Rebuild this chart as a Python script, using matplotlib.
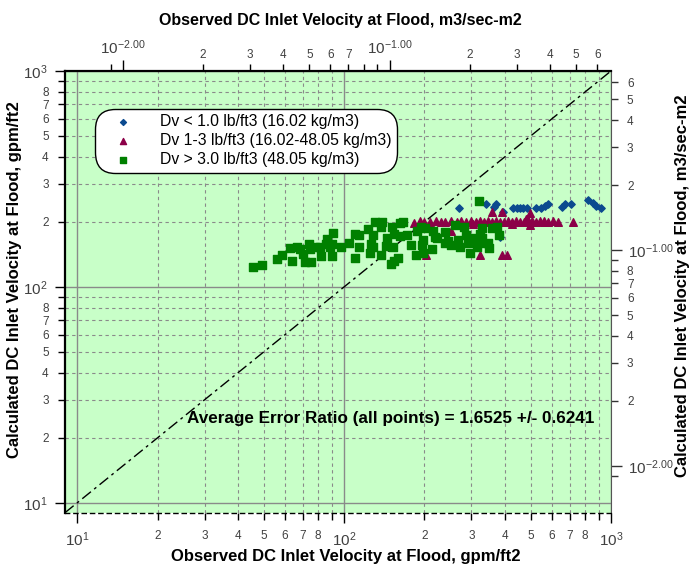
import numpy as np
import matplotlib
matplotlib.use("Agg")
import matplotlib.pyplot as plt

plt.rcParams['font.family'] = ['Liberation Sans', 'DejaVu Sans']
plt.rcParams['mathtext.fontset'] = 'custom'
plt.rcParams['mathtext.rm'] = 'Liberation Sans'
plt.rcParams['mathtext.it'] = 'Liberation Sans'

# observed / calculated DC inlet velocity at flood, gpm/ft2
obs_lo = [270, 340, 364, 372, 394, 430, 444, 456, 469, 484, 522, 546, 565, 580,
          655, 672, 706, 821, 855, 875, 915, 383]
calc_lo = [233, 241, 235, 242, 223, 233, 233, 233, 233, 233, 233, 233, 236, 241,
           235, 241, 243, 252, 244, 238, 231, 170]

obs_mid = [183, 192, 200, 209, 221, 230, 238, 251, 264, 275, 287, 300, 313, 322,
           334, 346, 358, 370, 383, 397, 411, 425, 440, 456, 472, 488, 505, 523,
           541, 560, 580, 606, 632,
           251, 357, 389, 497, 562, 480, 722, 497, 202, 322, 390, 407, 305, 425]
calc_mid = [197, 201, 199, 200, 202, 200, 199, 201, 200, 203, 199, 201, 200, 202,
            199, 201, 200, 203, 200, 199, 201, 200, 202, 200, 199, 205, 201, 200,
            202, 200, 199, 201, 200,
            181, 223, 223, 221, 202, 206, 199, 193, 140, 140, 140, 140, 196, 196]

obs_hi = [45.5, 49.2, 56.0, 58.5, 63.6, 62.7, 66.6, 68.2, 70.1, 73.7, 74.3, 77.6,
          81.0, 71.6, 75.4, 82.2, 86.6, 90.5, 85.8, 88.8, 90.2, 90.0, 97.1, 104.3,
          109.6, 113.4, 113.4, 110.3, 122.9, 130.2, 138.7, 138.0, 128.3, 125.8,
          128.8, 124.7, 137.2, 144.1, 145.3, 151.2, 153.8, 161.6, 166.3, 161.6,
          152.5, 159.2, 153.8, 149.5, 172.7, 177.7, 186.7, 188.3, 194.9, 200.5,
          197.6, 195.9, 197.6, 213.6, 215.4, 218.6, 223.8, 238.3, 238.3, 245.2,
          252.5, 259.8, 267.4, 271.3, 281.6, 287.4, 291.4, 295.7, 304.3, 313.3,
          320.0, 327.3, 322.5, 328.9, 327.3, 346.4, 348.5, 356.7, 372.4, 379.9, 316.0]
calc_hi = [123.5, 125.8, 134.5, 139.9, 131.7, 150.8, 152.4, 149.2, 141.4, 158.4,
           149.2, 152.4, 152.4, 130.8, 129.9, 138.5, 166.0, 178.1, 157.9, 152.4,
           157.4, 138.5, 152.4, 159.1, 175.1, 173.8, 153.4, 136.4, 185.3, 199.0,
           199.0, 189.9, 173.8, 157.4, 153.4, 142.9, 140.4, 154.2, 167.8, 189.9,
           175.1, 196.9, 199.0, 172.5, 153.4, 135.5, 131.7, 127.1, 173.8, 156.2,
           140.4, 181.4, 189.9, 186.7, 164.8, 156.2, 142.9, 149.7, 181.4, 170.7,
           167.8, 180.0, 159.1, 163.1, 156.2, 193.4, 164.8, 153.4, 189.9, 173.8,
           159.1, 142.9, 167.8, 161.8, 251.0, 186.7, 176.0, 167.8, 159.1, 159.1,
           150.8, 186.7, 189.9, 173.8, 153.4]

labels = ['Dv < 1.0 lb/ft3 (16.02 kg/m3)',
          'Dv 1-3 lb/ft3 (16.02-48.05 kg/m3)',
          'Dv > 3.0 lb/ft3 (48.05 kg/m3)']

err_text = 'Average Error Ratio (all points) = 1.6525 +/- 0.6241'

GPM_TO_SI = 0.000675  # gpm/ft2 -> m3/sec-m2 (as drawn)

fig = plt.figure(figsize=(6.9, 5.67), dpi=100)
ax = fig.add_axes([0.0942, 0.0958, 0.7913, 0.779])
ax.set_facecolor('#c8ffc8')
ax.set_xscale('log')
ax.set_yscale('log')
ax.set_xlim(9, 1000)
ax.set_ylim(9, 1000)

# parity line
ax.plot([9, 1000], [9, 1000], color='black', linestyle=(0, (8, 3, 2, 3)),
        linewidth=1, zorder=2)

ax.scatter(obs_lo, calc_lo, marker='D', s=14, color='#0b4a8f', label=labels[0], zorder=3)
ax.scatter(obs_mid, calc_mid, marker='^', s=30, color='#8c0048', label=labels[1], zorder=3)
ax.scatter(obs_hi, calc_hi, marker='s', s=30, color='#008000', label=labels[2], zorder=4)

# ticks / labels on bottom-left (gpm/ft2)
dec = [10, 100, 1000]
dec_lbl = [r'$\mathregular{10^{1}}$', r'$\mathregular{10^{2}}$', r'$\mathregular{10^{3}}$']
mins = [m * d for d in (10, 100) for m in range(2, 10)]
min_lbl = [str(m) if m != 9 else '' for d in (10, 100) for m in range(2, 10)]
ax.set_xticks(dec, dec_lbl)
ax.set_xticks(mins, min_lbl, minor=True)
ax.set_yticks(dec, dec_lbl)
ax.set_yticks(mins, min_lbl, minor=True)

ax.tick_params(axis='both', which='major', labelsize=11, colors='black',
               labelcolor='#404040', length=7, width=1)
ax.tick_params(axis='both', which='minor', labelsize=8.5, colors='black',
               labelcolor='#404040', length=5, width=1)
ax.tick_params(axis='x', which='major', pad=6)
ax.tick_params(axis='x', which='minor', pad=7.2)
ax.tick_params(axis='y', which='major', pad=5.3)
ax.tick_params(axis='y', which='minor', pad=6.7)

ax.grid(which='major', color='#8a8a8a', linestyle='-', linewidth=1)
ax.grid(which='minor', color='#8a8a8a', linestyle=(0, (3, 3)), linewidth=0.8)
ax.set_axisbelow(True)

ax.spines['left'].set_linewidth(1.6)
ax.spines['top'].set_linewidth(1.6)
ax.spines['right'].set_linewidth(0.8)
ax.spines['right'].set_color('#555555')
ax.spines['bottom'].set_linestyle((0, (3, 3)))
ax.spines['bottom'].set_linewidth(1)

ax.set_xlabel('Observed DC Inlet Velocity at Flood, gpm/ft2', fontsize=12,
              fontweight='bold')
ax.xaxis.set_label_coords(0.515, -0.083)
ax.set_ylabel('Calculated DC Inlet Velocity at Flood, gpm/ft2', fontsize=12,
              fontweight='bold')
ax.yaxis.set_label_coords(-0.079, 0.527)

# secondary axes in m3/sec-m2
def to_si(v):
    return v * GPM_TO_SI

def from_si(v):
    return v / GPM_TO_SI

si_dec = [0.01, 0.1]
si_dec_lbl = [r'$\mathregular{10^{-2.00}}$', r'$\mathregular{10^{-1.00}}$']

top = ax.secondary_xaxis('top', functions=(to_si, from_si))
top_min = [0.009, 0.02, 0.03, 0.04, 0.05, 0.06, 0.07, 0.08, 0.09,
           0.2, 0.3, 0.4, 0.5, 0.6]
top_min_lbl = ['', '2', '3', '4', '5', '6', '7', '', '', '2', '3', '4', '5', '6']
top.set_xticks(si_dec, si_dec_lbl)
top.set_xticks(top_min, top_min_lbl, minor=True)
top.tick_params(which='major', labelsize=11, labelcolor='#404040', length=8, width=1, pad=2.2)
top.tick_params(which='minor', labelsize=8.5, labelcolor='#404040', length=5, width=1, pad=2.4)
top.spines['top'].set_visible(False)
top.set_xlabel('Observed DC Inlet Velocity at Flood, m3/sec-m2', fontsize=11.5,
               fontweight='bold')
top.xaxis.set_label_coords(0.504, 1.104, transform=ax.transAxes)

right = ax.secondary_yaxis('right', functions=(to_si, from_si))
right_min = [0.009, 0.02, 0.03, 0.04, 0.05, 0.06, 0.07, 0.08, 0.09,
             0.2, 0.3, 0.4, 0.5, 0.6]
right_min_lbl = ['', '2', '3', '4', '5', '6', '7', '8', '', '2', '3', '4', '5', '6']
right.set_yticks(si_dec, si_dec_lbl)
right.set_yticks(right_min, right_min_lbl, minor=True)
right.tick_params(which='major', labelsize=11, labelcolor='#404040', colors='#333333',
                  length=7.7, width=1, pad=4.5)
right.tick_params(which='minor', labelsize=8.5, labelcolor='#404040', colors='#333333',
                  length=5, width=1, pad=6.5)
right.spines['right'].set_visible(False)
right.set_ylabel('Calculated DC Inlet Velocity at Flood, m3/sec-m2', fontsize=12,
                 fontweight='bold')
right.yaxis.set_label_coords(1.117, 0.514, transform=ax.transAxes)

ax.text(25.8, 24.7, err_text, fontsize=12.3, fontweight='bold', ha='left', va='center',
        zorder=5)

leg = ax.legend(loc='upper left', bbox_to_anchor=(0.055, 0.914), borderaxespad=0,
                fontsize=11.3, frameon=True, fancybox=True, framealpha=1,
                edgecolor='black', facecolor='white', borderpad=0.35,
                handlelength=2.85, handletextpad=0.95, labelspacing=0.25,
                scatterpoints=1, markerscale=0.8)
leg.get_frame().set_boxstyle('round', pad=0, rounding_size=1.3)
leg.get_frame().set_linewidth(1)

fig.savefig('out.png', dpi=100)
